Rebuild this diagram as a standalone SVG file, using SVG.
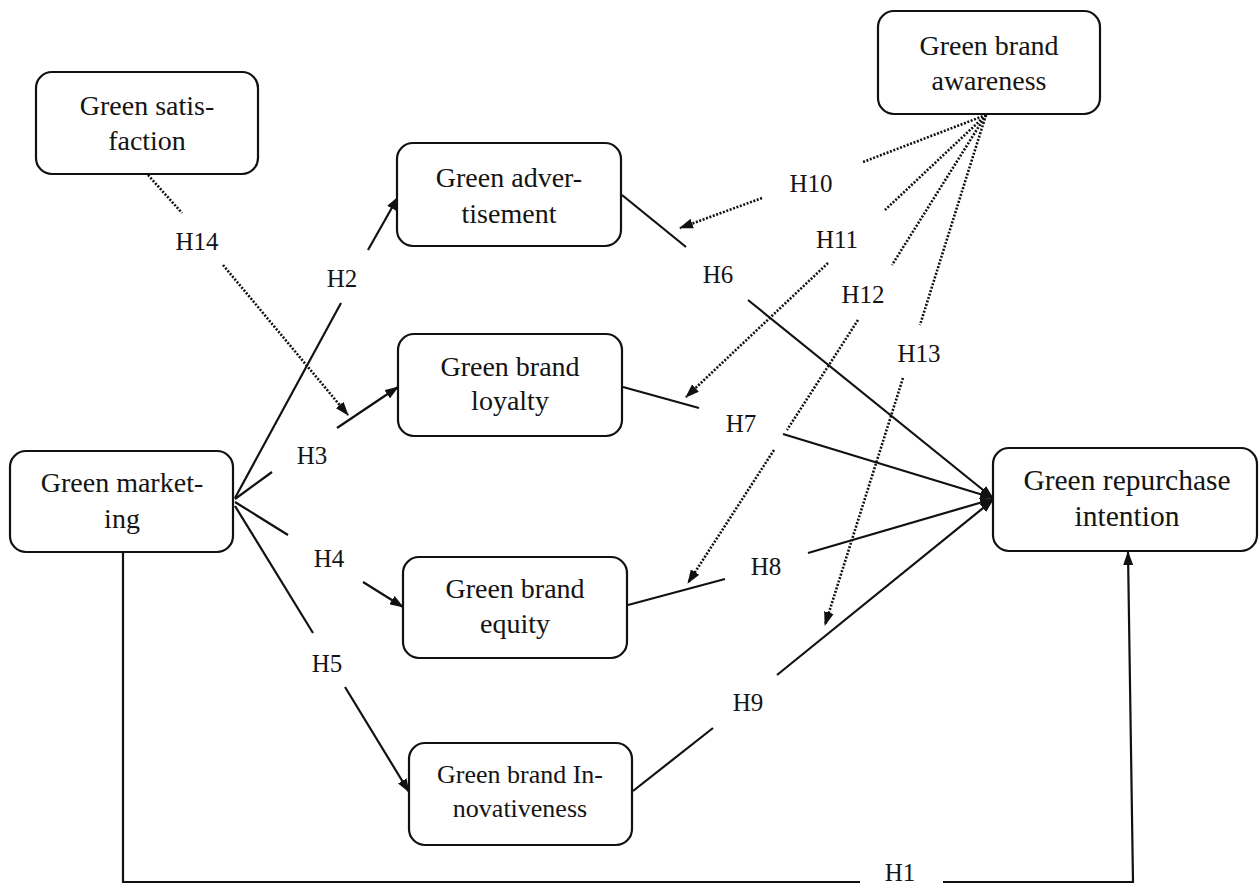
<svg xmlns="http://www.w3.org/2000/svg" width="1259" height="884" viewBox="0 0 1259 884">
<style>
.box{fill:#fff;stroke:#111;stroke-width:2.2}
.ntxt{font-family:'Liberation Serif',serif;font-size:28px;fill:#141414;text-anchor:middle}
.nsm{font-size:26px}
.nlg{font-size:29.5px}
.hlab{font-family:'Liberation Serif',serif;font-size:25px;fill:#141414;text-anchor:middle}
.sl{stroke:#111;stroke-width:2.2;fill:none}
.dl{stroke:#111;stroke-width:2.6;fill:none;stroke-dasharray:2 1.6}
</style>
<defs>
<marker id="ah" viewBox="0 0 14 10" refX="13" refY="5" markerWidth="14" markerHeight="10" markerUnits="userSpaceOnUse" orient="auto">
<path d="M0,0 L14,5 L0,10 z" fill="#111"/>
</marker>
</defs>
<rect width="1259" height="884" fill="#fff"/>
<g id="connectors">
<line class="sl" x1="235" y1="498" x2="341" y2="303"/>
<line class="sl" x1="368" y1="250" x2="398" y2="197" marker-end="url(#ah)"/>
<line class="sl" x1="235" y1="499" x2="272" y2="472"/>
<line class="sl" x1="337" y1="428" x2="398" y2="387" marker-end="url(#ah)"/>
<line class="sl" x1="235" y1="502" x2="288" y2="535"/>
<line class="sl" x1="363" y1="582" x2="403" y2="607" marker-end="url(#ah)"/>
<line class="sl" x1="235" y1="506" x2="313" y2="633"/>
<line class="sl" x1="345" y1="687" x2="409" y2="792" marker-end="url(#ah)"/>
<polyline class="sl" points="123,552 123,882 860,882"/>
<polyline class="sl" points="943,882 1133,882 1128,552" marker-end="url(#ah)"/>
<line class="sl" x1="622" y1="195" x2="686" y2="247"/>
<line class="sl" x1="748" y1="300" x2="993" y2="498" marker-end="url(#ah)"/>
<line class="sl" x1="623" y1="387" x2="699" y2="408"/>
<line class="sl" x1="783" y1="434" x2="993" y2="498" marker-end="url(#ah)"/>
<line class="sl" x1="628" y1="605" x2="725" y2="579"/>
<line class="sl" x1="808" y1="553" x2="993" y2="499" marker-end="url(#ah)"/>
<line class="sl" x1="633" y1="791" x2="713" y2="728"/>
<line class="sl" x1="777" y1="675" x2="993" y2="500" marker-end="url(#ah)"/>
<line class="dl" x1="986" y1="115" x2="863" y2="162"/>
<line class="dl" x1="762" y1="198" x2="680" y2="228" marker-end="url(#ah)"/>
<line class="dl" x1="986" y1="115" x2="885" y2="210"/>
<line class="dl" x1="828" y1="263" x2="686" y2="397" marker-end="url(#ah)"/>
<line class="dl" x1="986" y1="115" x2="892" y2="265"/>
<line class="dl" x1="858" y1="320" x2="787" y2="430"/>
<line class="dl" x1="774" y1="450" x2="688" y2="583" marker-end="url(#ah)"/>
<line class="dl" x1="986" y1="115" x2="920" y2="325"/>
<line class="dl" x1="903" y1="378" x2="825" y2="625" marker-end="url(#ah)"/>
<line class="dl" x1="148" y1="175" x2="182" y2="213"/>
<line class="dl" x1="223" y1="265" x2="348" y2="415" marker-end="url(#ah)"/>
</g>
<g id="labels">
<text class="hlab" x="197" y="250">H14</text>
<text class="hlab" x="342" y="287">H2</text>
<text class="hlab" x="312" y="464">H3</text>
<text class="hlab" x="329" y="567">H4</text>
<text class="hlab" x="327" y="672">H5</text>
<text class="hlab" x="718" y="283">H6</text>
<text class="hlab" x="741" y="432">H7</text>
<text class="hlab" x="766" y="575">H8</text>
<text class="hlab" x="748" y="711">H9</text>
<text class="hlab" x="811" y="192">H10</text>
<text class="hlab" x="837" y="248">H11</text>
<text class="hlab" x="863" y="303">H12</text>
<text class="hlab" x="919" y="362">H13</text>
<text class="hlab" x="900" y="881">H1</text>
</g>
<g id="n-satisfaction">
<rect class="box" x="36" y="72" width="222" height="102" rx="16"/>
<text class="ntxt" x="147" y="115">Green satis-</text>
<text class="ntxt" x="147" y="150">faction</text>
</g>
<g id="n-advertisement">
<rect class="box" x="397" y="143" width="224" height="103" rx="16"/>
<text class="ntxt" x="509" y="187">Green adver-</text>
<text class="ntxt" x="509" y="223">tisement</text>
</g>
<g id="n-loyalty">
<rect class="box" x="398" y="334" width="224" height="102" rx="16"/>
<text class="ntxt" x="510" y="376">Green brand</text>
<text class="ntxt" x="510" y="410">loyalty</text>
</g>
<g id="n-awareness">
<rect class="box" x="878" y="11" width="222" height="103" rx="16"/>
<text class="ntxt" x="989" y="55">Green brand</text>
<text class="ntxt" x="989" y="90">awareness</text>
</g>
<g id="n-marketing">
<rect class="box" x="10" y="451" width="223" height="101" rx="16"/>
<text class="ntxt" x="122" y="492">Green market-</text>
<text class="ntxt" x="122" y="528">ing</text>
</g>
<g id="n-equity">
<rect class="box" x="403" y="557" width="224" height="101" rx="16"/>
<text class="ntxt" x="515" y="598">Green brand</text>
<text class="ntxt" x="515" y="633">equity</text>
</g>
<g id="n-innovativeness">
<rect class="box" x="409" y="743" width="223" height="102" rx="16"/>
<text class="ntxt nsm" x="520" y="783">Green brand In-</text>
<text class="ntxt nsm" x="520" y="817">novativeness</text>
</g>
<g id="n-repurchase">
<rect class="box" x="993" y="448" width="264" height="103" rx="16"/>
<text class="ntxt nlg" x="1127" y="490">Green repurchase</text>
<text class="ntxt nlg" x="1127" y="526">intention</text>
</g>
</svg>
